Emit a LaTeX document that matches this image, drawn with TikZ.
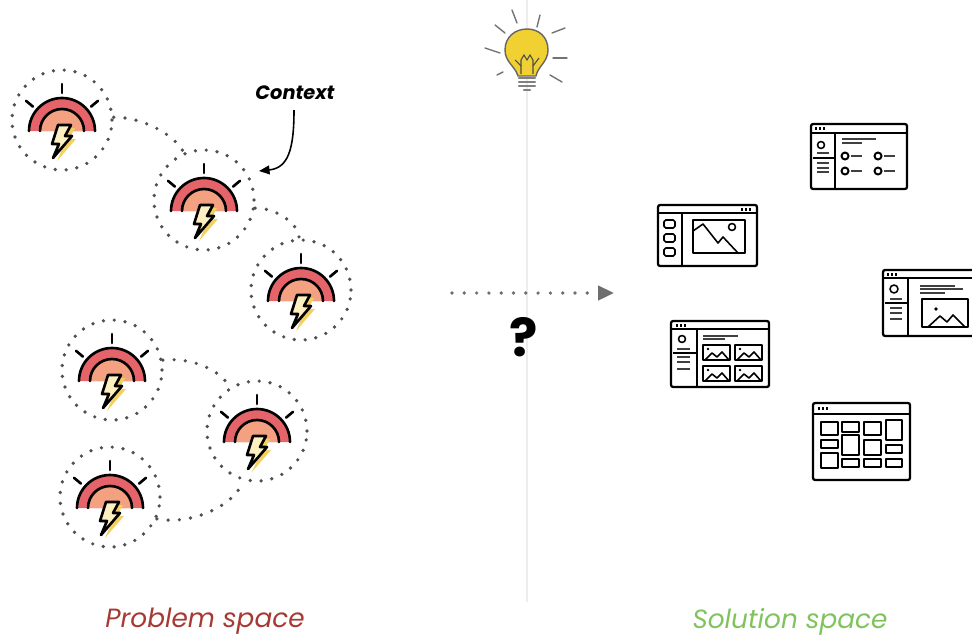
\documentclass[tikz,border=0pt]{standalone}
\usepackage{fontspec}
\setmainfont{Poppins}
\usetikzlibrary{arrows.meta}

\definecolor{dotgray}{HTML}{505050}
\definecolor{bandred}{HTML}{E5646A}
\definecolor{bandsalmon}{HTML}{F4A182}
\definecolor{boltyellow}{HTML}{F3D061}
\definecolor{boltfill}{HTML}{FCEFC0}
\definecolor{bulbyellow}{HTML}{F1D132}
\definecolor{probred}{HTML}{A63A33}
\definecolor{solgreen}{HTML}{80C35E}
\definecolor{divider}{HTML}{EDEDED}
\definecolor{arrowgray}{HTML}{6E6E6E}

\tikzset{
  probcircle/.style={circle, minimum size=2cm, inner sep=0pt, draw=dotgray,
    line width=2.1pt, dash pattern=on 0pt off 6.2pt, line cap=round},
  linkdots/.style={draw=dotgray, line width=2.1pt, dash pattern=on 0pt off 6.4pt, line cap=round},
  iconline/.style={line width=1.5pt, line cap=round, line join=round},
  winframe/.style={line width=1.3pt, rounded corners=1.2pt},
  thinline/.style={line width=0.9pt, line join=round},
  textbar/.style={line width=1.4pt, black!75},
  bulbray/.style={line width=0.8pt, black!55, line cap=round},
  problem/.pic={
    \fill[bandred] (-33,11) arc[start angle=180, end angle=360, radius=33] -- cycle;
    \fill[bandsalmon] (-22,11) arc[start angle=180, end angle=360, radius=22] -- cycle;
    \draw[iconline] (-33,11) arc[start angle=180, end angle=360, radius=33];
    \draw[iconline] (-22,11) arc[start angle=180, end angle=360, radius=22];
    \foreach \a in {-40,-90,-140}
      \draw[iconline] ([shift={(0,11)}]\a:38) -- ([shift={(0,11)}]\a:47);
    % bolt with its yellow shadow
    \fill[boltyellow] (0,8) -- (13,8) -- (7,19) -- (14,19) -- (-5,41) -- (1,27) -- (-6,27) -- cycle;
    \filldraw[iconline, fill=boltfill] (-4,5) -- (9,5) -- (3,16) -- (10,16) -- (-9,38) -- (-3,24) -- (-10,24) -- cycle;
  }
}

\newcommand{\browser}[5]{% frame x1,y1,x2,y2 and title bar at y
  \draw[winframe] (#1,#2) rectangle (#3,#4);
  \draw[winframe] (#1,#5) -- (#3,#5);
}
\newcommand{\winbtns}[2]{% three small buttons from (x,y)
  \foreach \d in {0,4,8} \fill ({#1+\d},#2) rectangle +(2.4,2.6);
}
\newcommand{\thumb}[2]{% picture placeholder, top left at (x,y)
  \begin{scope}[shift={(#1,#2)}]
    \draw[thinline] (0,0) rectangle (27,15);
    \draw[thinline] (2,15) -- (9,8) -- (14,12) -- (19,7) -- (26,15);
    \fill (5,4) circle[radius=1.3];
  \end{scope}
}

\begin{document}
\begin{tikzpicture}[x=0.02cm, y=-0.02cm]
\useasboundingbox (0,0) rectangle (972,636);

% divider and idea bulb
\draw[divider, line width=1.2pt] (527,0) -- (527,602);
\filldraw[fill=bulbyellow, draw=black!60, line width=0.8pt]
  (518,76) .. controls (515,66) and (505,62) .. (505,50)
  .. controls (505,37) and (515,29) .. (527,29)
  .. controls (539,29) and (548,37) .. (548,50)
  .. controls (548,62) and (538,66) .. (536,76) -- cycle;
\draw[black!70, line width=0.6pt] (521,74) -- (521,60) -- (524,55) -- (527,60) -- (530,55) -- (533,60) -- (533,74);
\draw[black!70, line width=0.6pt] (515,60) -- (521,66) (539,58) -- (533,66);
\foreach \yy in {78,82,86}
  \draw[black!50, line width=1.3pt, line cap=round] (519,\yy) -- (535,\yy);
\draw[black!50, line width=1.3pt, line cap=round] (524,90) -- (530,90);
\draw[bulbray] (512,10) -- (517,23);
\draw[bulbray] (540,15) -- (537,27);
\draw[bulbray] (495,25) -- (505,33);
\draw[bulbray] (485,48) -- (500,53);
\draw[bulbray] (552,33) -- (565,28);
\draw[bulbray] (553,58) -- (567,58);
\draw[bulbray] (497,75) -- (503,72);
\draw[bulbray] (550,75) -- (562,82);

% problem space
\foreach \n/\x/\y in {1/62/120, 2/204/200, 3/301/290, 4/112/370, 5/257/431, 6/110/497} {
  \node[probcircle] (p\n) at (\x,\y) {};
  \pic at (p\n) {problem};
}
\draw[linkdots] (p1.3) .. controls (140,117) and (172,132) .. (p2.113);
\draw[linkdots] (p2.-9) .. controls (275,208) and (298,222) .. (p3.92);
\draw[linkdots] (p4.11) .. controls (195,357) and (222,372) .. (p5.122);
\draw[linkdots] (p6.-25) .. controls (195,526) and (238,502) .. (p5.-106);

\node (ctx) at (295,93) {\fontsize{11}{11}\selectfont\bfseries\itshape Context};
\coordinate (ctxend) at (259,171);
\draw[line width=0.9pt, -{Triangle[length=6pt, width=5pt]}]
  (294,110) .. controls (294,150) and (288,168) .. (ctxend);

% from problem to solution
\coordinate (arrS) at (452,293);
\coordinate (arrE) at (614,293);
\draw[draw=arrowgray, line width=2.1pt, dash pattern=on 0pt off 7pt, line cap=round,
  -{Triangle[length=9pt, width=8pt, fill=arrowgray]}] (arrS) -- (arrE);
\node (qmark) at (524,337) {\fontsize{30}{30}\selectfont\bfseries ?};

% solution space
\browser{811}{124}{907}{189}{133}
\winbtns{815}{127}
\draw[winframe] (835,133) -- (835,189);
\draw[thinline] (821,145) circle[radius=3.5];
\draw[textbar] (817,153) -- (829,153);
\draw[thinline] (813,158) -- (835,158);
\foreach \yy in {163,168,172} \draw[textbar] (817,\yy) -- (829,\yy);
\draw[textbar] (842,139) -- (876,139);
\draw[textbar] (842,143) -- (862,143);
\foreach \cx in {845,878} \foreach \cy in {156,171} {
  \draw[line width=1.1pt] (\cx,\cy) circle[radius=3.5];
  \draw[textbar] ({\cx+6},\cy) -- ({\cx+17},\cy);
}

\browser{658}{205}{757}{266}{213}
\winbtns{741}{208}
\draw[winframe] (682,213) -- (682,266);
\foreach \yy in {220,234,248} \draw[thinline, rounded corners=1pt] (664,\yy) rectangle (675,{\yy+8});
\draw[thinline] (693,220) rectangle (745,253);
\draw[thinline] (693,231) -- (703,224) -- (718,243) -- (723,237) -- (738,253);
\draw[thinline] (732,227) circle[radius=3.5];

\begin{scope}
\clip (0,0) rectangle (972,636);
\browser{883}{270}{985}{336}{278}
\winbtns{887}{273}
\draw[winframe] (908,278) -- (908,336);
\draw[thinline] (894,289) circle[radius=4];
\foreach \yy in {299,308,313,319} \draw[textbar] (890,\yy) -- (902,\yy);
\draw[thinline] (885,303) -- (908,303);
\draw[textbar] (920,286) -- (955,286);
\draw[textbar] (920,289) -- (963,289);
\draw[textbar] (920,293) -- (945,293);
\draw[thinline] (922,299) rectangle (968,327);
\draw[thinline] (928,327) -- (940,316) -- (947,322) -- (953,315) -- (965,327);
\fill (936,309) circle[radius=1.8];
\end{scope}

\browser{671}{321}{769}{387}{329}
\winbtns{676}{324}
\draw[winframe] (697,329) -- (697,387);
\draw[thinline] (682,339) circle[radius=3.5];
\foreach \yy in {349,357,362,369} \draw[textbar] (677,\yy) -- (690,\yy);
\draw[thinline] (673,353) -- (697,353);
\draw[textbar] (703,336) -- (738,336);
\draw[textbar] (703,339) -- (725,339);
\thumb{703}{345}
\thumb{735}{345}
\thumb{703}{366}
\thumb{735}{366}

\browser{813}{403}{910}{480}{414}
\winbtns{818}{407}
\foreach \xa/\ya/\xb/\yb in {821/422/838/435, 842/422/859/432, 864/422/881/435, 886/420/902/440,
  821/440/838/448, 842/435/859/455, 864/440/881/455, 886/445/902/453,
  821/453/838/468, 842/459/859/467, 864/459/881/467, 886/459/902/467}
  \draw[thinline] (\xa,\ya) rectangle (\xb,\yb);

% captions
\node[text=probred] (probl) at (205,621) {\fontsize{15}{17}\selectfont\itshape Problem space};
\node[text=solgreen] (soll) at (790,622) {\fontsize{15}{17}\selectfont\itshape Solution space};
\end{tikzpicture}
\end{document}
